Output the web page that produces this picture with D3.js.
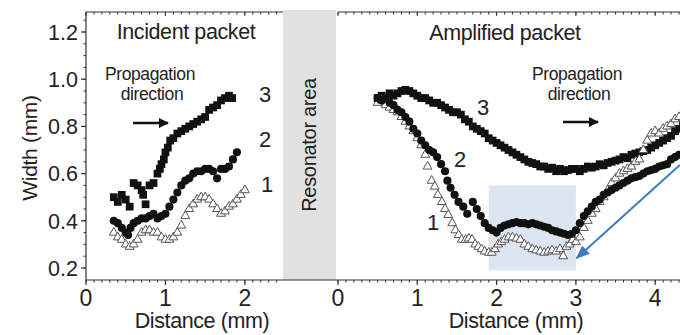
<!DOCTYPE html>
<html>
<head>
<meta charset="utf-8">
<script src="https://cdn.jsdelivr.net/npm/d3@7"></script>
<style>
  body { margin: 0; background: #fff; }
  text { font-family: "Liberation Sans", Arial, sans-serif; fill: #222; }
</style>
</head>
<body>
<div id="chart"></div>
<script>
// incident packet (left panel), [distance mm, width mm]
const leftS3 = [[0.35,0.50],[0.40,0.48],[0.45,0.51],[0.50,0.49],[0.55,0.46],[0.60,0.56],[0.65,0.55],[0.70,0.53],[0.72,0.51],[0.75,0.47],[0.80,0.55],[0.85,0.56],[0.90,0.60],[0.93,0.62],[0.95,0.64],[0.98,0.66],[1.00,0.69],[1.03,0.71],[1.06,0.74],[1.10,0.75],[1.15,0.77],[1.20,0.78],[1.25,0.79],[1.30,0.80],[1.35,0.81],[1.40,0.82],[1.45,0.83],[1.50,0.84],[1.55,0.87],[1.60,0.88],[1.65,0.89],[1.70,0.91],[1.75,0.92],[1.80,0.93],[1.84,0.92]];
const leftS2 = [[0.35,0.40],[0.40,0.39],[0.45,0.37],[0.50,0.35],[0.53,0.34],[0.56,0.37],[0.60,0.39],[0.65,0.40],[0.70,0.41],[0.75,0.41],[0.80,0.42],[0.85,0.43],[0.90,0.41],[0.95,0.42],[1.00,0.43],[1.05,0.46],[1.10,0.49],[1.15,0.52],[1.20,0.55],[1.25,0.57],[1.30,0.58],[1.35,0.60],[1.40,0.61],[1.45,0.61],[1.50,0.62],[1.55,0.62],[1.60,0.61],[1.65,0.58],[1.70,0.62],[1.75,0.62],[1.80,0.63],[1.85,0.66],[1.90,0.69]];
const leftS1 = [[0.35,0.35],[0.40,0.33],[0.45,0.32],[0.50,0.30],[0.55,0.29],[0.60,0.30],[0.65,0.32],[0.70,0.35],[0.75,0.36],[0.80,0.36],[0.85,0.35],[0.90,0.35],[0.95,0.33],[1.00,0.32],[1.05,0.32],[1.10,0.33],[1.15,0.35],[1.20,0.38],[1.25,0.42],[1.30,0.45],[1.35,0.47],[1.40,0.49],[1.45,0.50],[1.50,0.50],[1.55,0.49],[1.60,0.47],[1.65,0.45],[1.70,0.43],[1.75,0.44],[1.80,0.46],[1.85,0.47],[1.90,0.49],[1.95,0.51],[2.00,0.53]];

// amplified packet (right panel)
const rightS3 = [[0.50,0.92],[0.55,0.93],[0.60,0.92],[0.65,0.94],[0.70,0.93],[0.75,0.94],[0.80,0.95],[0.85,0.955],[0.90,0.95],[0.95,0.94],[1.00,0.93],[1.05,0.92],[1.10,0.92],[1.15,0.91],[1.20,0.90],[1.25,0.90],[1.30,0.89],[1.35,0.88],[1.40,0.87],[1.45,0.86],[1.50,0.86],[1.55,0.85],[1.60,0.83],[1.65,0.82],[1.70,0.80],[1.75,0.79],[1.80,0.78],[1.85,0.77],[1.90,0.75],[1.95,0.74],[2.00,0.73],[2.05,0.72],[2.10,0.71],[2.15,0.70],[2.20,0.69],[2.25,0.68],[2.30,0.67],[2.35,0.66],[2.40,0.65],[2.45,0.645],[2.50,0.64],[2.55,0.63],[2.60,0.63],[2.65,0.62],[2.70,0.625],[2.75,0.61],[2.80,0.62],[2.85,0.61],[2.90,0.615],[2.95,0.62],[3.00,0.62],[3.05,0.61],[3.10,0.62],[3.15,0.63],[3.20,0.625],[3.25,0.63],[3.30,0.64],[3.35,0.635],[3.40,0.645],[3.45,0.65],[3.50,0.655],[3.55,0.66],[3.60,0.67],[3.65,0.665],[3.70,0.68],[3.75,0.685],[3.80,0.69],[3.85,0.695],[3.90,0.70],[3.95,0.71],[4.00,0.72],[4.05,0.73],[4.10,0.74],[4.15,0.75],[4.20,0.76],[4.25,0.78],[4.30,0.79],[4.35,0.81]];
const rightS2 = [[0.50,0.92],[0.55,0.91],[0.60,0.92],[0.65,0.90],[0.70,0.89],[0.75,0.87],[0.80,0.86],[0.85,0.84],[0.90,0.82],[0.95,0.79],[1.00,0.77],[1.05,0.74],[1.10,0.72],[1.15,0.70],[1.20,0.69],[1.25,0.67],[1.30,0.64],[1.35,0.61],[1.38,0.57],[1.42,0.54],[1.47,0.51],[1.52,0.48],[1.58,0.46],[1.63,0.43],[1.70,0.48],[1.75,0.45],[1.80,0.42],[1.85,0.39],[1.90,0.37],[1.95,0.36],[2.00,0.35],[2.05,0.37],[2.10,0.38],[2.15,0.385],[2.20,0.39],[2.25,0.395],[2.30,0.39],[2.35,0.39],[2.40,0.385],[2.45,0.39],[2.50,0.385],[2.55,0.38],[2.60,0.375],[2.65,0.37],[2.70,0.36],[2.75,0.355],[2.80,0.35],[2.85,0.345],[2.90,0.34],[2.95,0.345],[3.00,0.36],[3.05,0.39],[3.10,0.42],[3.15,0.44],[3.20,0.46],[3.25,0.48],[3.30,0.49],[3.35,0.51],[3.40,0.52],[3.45,0.53],[3.50,0.54],[3.55,0.55],[3.60,0.56],[3.65,0.57],[3.70,0.58],[3.75,0.585],[3.80,0.59],[3.85,0.60],[3.90,0.61],[3.95,0.615],[4.00,0.62],[4.05,0.63],[4.10,0.635],[4.15,0.64],[4.20,0.66],[4.25,0.67],[4.30,0.68]];
const rightS1 = [[0.50,0.90],[0.55,0.91],[0.60,0.89],[0.65,0.88],[0.70,0.87],[0.75,0.86],[0.80,0.84],[0.85,0.82],[0.90,0.80],[0.95,0.78],[1.00,0.75],[1.05,0.72],[1.10,0.68],[1.13,0.63],[1.18,0.57],[1.22,0.545],[1.26,0.51],[1.31,0.48],[1.35,0.45],[1.39,0.425],[1.44,0.39],[1.48,0.36],[1.52,0.34],[1.56,0.32],[1.61,0.32],[1.65,0.325],[1.69,0.32],[1.73,0.30],[1.77,0.29],[1.81,0.28],[1.85,0.27],[1.90,0.265],[1.94,0.265],[1.98,0.28],[2.02,0.30],[2.06,0.31],[2.10,0.32],[2.15,0.33],[2.20,0.33],[2.25,0.325],[2.30,0.32],[2.35,0.30],[2.40,0.29],[2.45,0.28],[2.50,0.275],[2.55,0.27],[2.60,0.265],[2.65,0.27],[2.70,0.275],[2.75,0.27],[2.80,0.28],[2.84,0.25],[2.88,0.29],[2.92,0.30],[2.96,0.32],[3.00,0.31],[3.05,0.33],[3.10,0.37],[3.15,0.40],[3.20,0.43],[3.25,0.45],[3.30,0.48],[3.35,0.50],[3.40,0.53],[3.45,0.56],[3.50,0.58],[3.55,0.60],[3.60,0.61],[3.65,0.62],[3.70,0.63],[3.75,0.65],[3.80,0.66],[3.85,0.70],[3.90,0.74],[3.95,0.77],[4.00,0.78],[4.05,0.77],[4.10,0.79],[4.15,0.80],[4.20,0.81],[4.25,0.83],[4.30,0.84]];

const yTicks = [0.2, 0.4, 0.6, 0.8, 1.0, 1.2];
const leftXTicks = [0, 1, 2];
const rightXTicks = [0, 1, 2, 3, 4];
const highlightX = [1.9, 3.0];
const highlightY = [0.19, 0.55];
const pointerFrom = [4.31, 0.636];
const pointerTo = [3.01, 0.242];

const width = 680, height = 335;
const axisY = 280, topY = 12;

const svg = d3.select('#chart').append('svg')
  .attr('width', width)
  .attr('height', height);

const y = d3.scaleLinear().domain([0.2, 1.2]).range([268, 32]);
const xL = d3.scaleLinear().domain([0, 2.48]).range([86, 283]);
const xR = d3.scaleLinear().domain([0, 4.5]).range([338, 338 + 79.3 * 4.5]);

// resonator area
svg.append('rect')
  .attr('x', 283).attr('y', 10)
  .attr('width', 53).attr('height', axisY - 10)
  .attr('fill', '#e1e1e1');

svg.append('text')
  .attr('transform', 'translate(316,145) rotate(-90)')
  .attr('text-anchor', 'middle')
  .style('font-size', '20px')
  .style('letter-spacing', '-0.3px')
  .text('Resonator area');

// highlighted region
svg.append('rect')
  .attr('x', xR(highlightX[0])).attr('y', y(highlightY[1]))
  .attr('width', xR(highlightX[1]) - xR(highlightX[0]))
  .attr('height', y(highlightY[0]) - y(highlightY[1]))
  .attr('fill', '#dce6f2');

// axes
function drawAxes(x, x0, x1, ticks) {
  const minor = d3.range(0, Math.floor(x.domain()[1] * 10) + 1).map(d => d / 10);
  // bottom
  const gb = svg.append('g').attr('transform', `translate(0,${axisY})`);
  gb.append('line').attr('x1', x0).attr('x2', x1).attr('stroke', '#333').attr('stroke-width', 1.2);
  gb.selectAll('.mn').data(minor).enter().append('line')
    .attr('x1', d => x(d)).attr('x2', d => x(d))
    .attr('y1', 0).attr('y2', 2.5).attr('stroke', '#333');
  gb.selectAll('.mj').data(ticks).enter().append('line')
    .attr('x1', d => x(d)).attr('x2', d => x(d))
    .attr('y1', 0).attr('y2', 5).attr('stroke', '#333').attr('stroke-width', 1.2);
  gb.selectAll('.lb').data(ticks).enter().append('text')
    .attr('x', d => x(d)).attr('y', 26)
    .attr('text-anchor', 'middle')
    .style('font-size', '23px')
    .text(d => d);
  // top
  const gt = svg.append('g').attr('transform', `translate(0,${topY})`);
  gt.append('line').attr('x1', x0).attr('x2', x1).attr('stroke', '#333').attr('stroke-width', 1.2);
  gt.selectAll('.mn').data(minor).enter().append('line')
    .attr('x1', d => x(d)).attr('x2', d => x(d))
    .attr('y1', 0).attr('y2', 2.5).attr('stroke', '#333');
  gt.selectAll('.mj').data(ticks).enter().append('line')
    .attr('x1', d => x(d)).attr('x2', d => x(d))
    .attr('y1', 0).attr('y2', 4).attr('stroke', '#333');
}
drawAxes(xL, 86, 283, leftXTicks);
drawAxes(xR, 338, 680, rightXTicks);
svg.append('line').attr('x1', 283).attr('x2', 338).attr('y1', axisY).attr('y2', axisY)
  .attr('stroke', '#333').attr('stroke-width', 1.2);

// y axis
const gy = svg.append('g').attr('transform', 'translate(86,0)');
gy.append('line').attr('y1', topY).attr('y2', axisY).attr('stroke', '#333').attr('stroke-width', 1.2);
gy.selectAll('.mn').data(d3.range(4, 26).map(d => d * 0.05)).enter().append('line')
  .attr('y1', d => y(d)).attr('y2', d => y(d))
  .attr('x1', 0).attr('x2', -2.5).attr('stroke', '#333');
gy.selectAll('.mj').data(yTicks).enter().append('line')
  .attr('y1', d => y(d)).attr('y2', d => y(d))
  .attr('x1', 0).attr('x2', -5).attr('stroke', '#333').attr('stroke-width', 1.2);
gy.selectAll('.lb').data(yTicks).enter().append('text')
  .attr('x', -8).attr('y', d => y(d)).attr('dy', '0.36em')
  .attr('text-anchor', 'end')
  .style('font-size', '21.5px')
  .text(d => d.toFixed(1));

svg.append('text')
  .attr('transform', `translate(37,148) rotate(-90)`)
  .attr('text-anchor', 'middle')
  .style('font-size', '21px')
  .style('letter-spacing', '-0.3px')
  .text('Width (mm)');

svg.append('text').attr('x', 202).attr('y', 328).attr('text-anchor', 'middle')
  .style('font-size', '21.5px').style('letter-spacing', '-0.4px').text('Distance (mm)');
svg.append('text').attr('x', 516).attr('y', 328).attr('text-anchor', 'middle')
  .style('font-size', '21.5px').style('letter-spacing', '-0.4px').text('Distance (mm)');

// markers
const clip = svg.append('clipPath').attr('id', 'clipR').append('rect')
  .attr('x', 338).attr('y', 0).attr('width', width - 338).attr('height', axisY);

function drawSeries(data, x, type, clipped) {
  const g = svg.append('g');
  if (clipped) g.attr('clip-path', 'url(#clipR)');
  const sym = type === 'tri'
    ? d3.symbol().type(d3.symbolTriangle).size(34)
    : d3.symbol().type(type === 'sq' ? d3.symbolSquare : d3.symbolCircle).size(type === 'sq' ? 60 : 52);
  g.selectAll('path').data(data).enter().append('path')
    .attr('d', sym)
    .attr('transform', d => `translate(${x(d[0])},${y(d[1])})`)
    .attr('fill', type === 'tri' ? '#fff' : '#111')
    .attr('stroke', type === 'tri' ? '#555' : 'none')
    .attr('stroke-width', 1);
}
drawSeries(leftS1, xL, 'tri');
drawSeries(leftS3, xL, 'sq');
drawSeries(leftS2, xL, 'circ');
drawSeries(rightS3, xR, 'sq', true);
drawSeries(rightS1, xR, 'tri', true);
drawSeries(rightS2, xR, 'circ', true);

// titles and annotations
svg.append('text').attr('x', 186).attr('y', 39).attr('text-anchor', 'middle')
  .style('font-size', '21.5px').style('letter-spacing', '-0.4px').text('Incident packet');
svg.append('text').attr('x', 505).attr('y', 40).attr('text-anchor', 'middle')
  .style('font-size', '21.5px').style('letter-spacing', '-0.4px').text('Amplified packet');

svg.append('defs').append('marker')
  .attr('id', 'ah').attr('viewBox', '0 0 10 10').attr('refX', 9).attr('refY', 5)
  .attr('markerWidth', 4).attr('markerHeight', 4).attr('orient', 'auto')
  .append('path').attr('d', 'M0,0 L10,5 L0,10 z').attr('fill', '#111');

function propagation(cx, ax0, ax1, ay) {
  svg.append('text').attr('x', cx).attr('y', 80).attr('text-anchor', 'middle')
    .style('font-size', '17.5px').style('letter-spacing', '-0.4px').text('Propagation');
  svg.append('text').attr('x', cx + 2).attr('y', 100).attr('text-anchor', 'middle')
    .style('font-size', '17.5px').style('letter-spacing', '-0.4px').text('direction');
  svg.append('line').attr('x1', ax0).attr('x2', ax1).attr('y1', ay).attr('y2', ay)
    .attr('stroke', '#111').attr('stroke-width', 2.5).attr('marker-end', 'url(#ah)');
}
propagation(150, 133, 168, 123);
propagation(577, 563, 598, 122);

const labels = [
  { t: '3', x: 265, y: 102 }, { t: '2', x: 265, y: 147 }, { t: '1', x: 267, y: 192 },
  { t: '3', x: 483, y: 115 }, { t: '2', x: 460, y: 167 }, { t: '1', x: 433, y: 230 }
];
svg.selectAll('.num').data(labels).enter().append('text')
  .attr('x', d => d.x).attr('y', d => d.y).attr('text-anchor', 'middle')
  .style('font-size', '22px').text(d => d.t);

// blue pointer arrow
svg.append('defs').append('marker')
  .attr('id', 'bh').attr('viewBox', '0 0 10 10').attr('refX', 9).attr('refY', 5)
  .attr('markerWidth', 7).attr('markerHeight', 7).attr('orient', 'auto')
  .append('path').attr('d', 'M0,1 L10,5 L0,9 z').attr('fill', '#3e7cc3');
svg.append('line')
  .attr('x1', xR(pointerFrom[0])).attr('y1', y(pointerFrom[1]))
  .attr('x2', xR(pointerTo[0])).attr('y2', y(pointerTo[1]))
  .attr('stroke', '#3e7cc3').attr('stroke-width', 2)
  .attr('marker-end', 'url(#bh)');
</script>
</body>
</html>
